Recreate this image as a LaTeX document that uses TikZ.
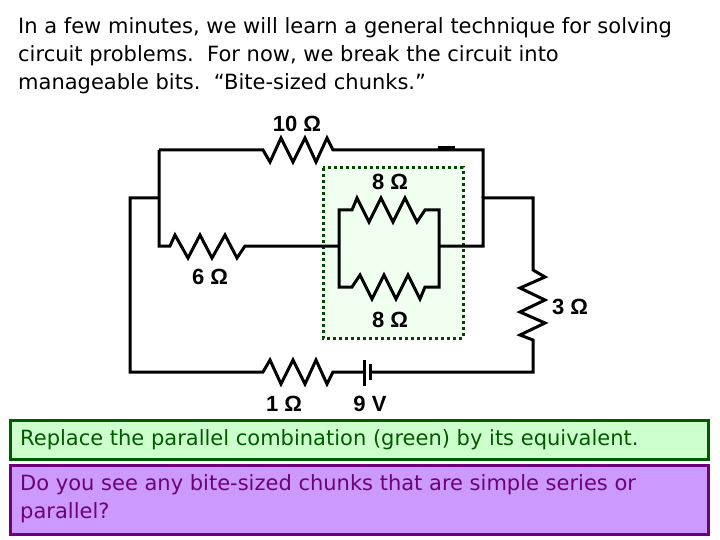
\documentclass[tikz,border=0pt]{standalone}
\usepackage{fontspec}
\setmainfont{DejaVu Sans}
\newfontfamily\arialf{Liberation Sans}
\definecolor{lav}{RGB}{204,153,255}
\definecolor{purp}{RGB}{110,0,120}
\definecolor{lgreen}{RGB}{204,255,204}
\definecolor{dgreen}{RGB}{0,90,0}
\begin{document}
\begin{tikzpicture}[x=1pt,y=-1pt,
  wire/.style={line width=3pt,line join=miter},
  lab/.style={font=\arialf\bfseries\fontsize{22}{24}\selectfont,inner sep=0pt},
  txt/.style={font=\fontsize{21}{28}\selectfont,inner sep=0pt,anchor=north west,align=left}]
\useasboundingbox (0,0) rectangle (720,540);
\fill[white] (0,0) rectangle (720,540);
% green dotted box
\filldraw[fill=green!6,draw=dgreen!80!black,line width=3pt,dash pattern=on 3pt off 3pt] (323,168) rectangle (463,338);
% nodes
\coordinate (tl) at (159,150); \coordinate (tr) at (483,150);
\coordinate (ml) at (159,198); \coordinate (ol) at (130,198);
\coordinate (r1) at (483,198); \coordinate (r2) at (533,198);
\coordinate (bl) at (130,372); \coordinate (br) at (533,372);
\coordinate (pl) at (339,246); \coordinate (pr) at (439,246);
% top branch with 10
\draw[wire] (tl) -- (263,150) -- (270,162) -- (281,138) -- (293,162) -- (305,138) -- (316,162) -- (327,138) -- (333,150) -- (tr) -- (r1);
% 6 branch
\draw[wire] (tl) -- (ml) -- (159,246) -- (170,246) -- (175,235) -- (188,258) -- (200,235) -- (212,258) -- (225,235) -- (237,258) -- (245,246) -- (pl);
\draw[wire] (ml) -- (ol) -- (bl) -- (263,372) -- (270,360) -- (281,384) -- (293,360) -- (305,384) -- (316,360) -- (327,384) -- (333,372) -- (364,372);
\draw[wire] (364,360) -- (364,386);
\draw[wire] (370,364) -- (370,380);
\draw[wire] (370,372) -- (br) -- (533,340) -- (520,335) -- (545,323) -- (520,312) -- (545,300) -- (520,288) -- (545,277) -- (533,270) -- (r2) -- (r1) -- (483,246) -- (pr);
% parallel
\draw[wire] (pl) -- (339,210) -- (352,210) -- (357,198) -- (369,222) -- (381,198) -- (393,222) -- (405,198) -- (417,222) -- (425,210) -- (439,210) -- (pr) -- (439,287) -- (425,287) -- (420,299) -- (408,275) -- (396,299) -- (384,275) -- (372,299) -- (360,275) -- (352,287) -- (339,287) -- (pl);
\draw[line width=3pt] (438,148) -- (455,148);
% labels
\node[lab] (l10) at (297,124) {10 Ω};
\node[lab] (l8a) at (390,182) {8 Ω};
\node[lab] (l6) at (210,277) {6 Ω};
\node[lab] (l8b) at (390,320) {8 Ω};
\node[lab] (l3) at (570,307) {3 Ω};
\node[lab] (l1) at (284,404) {1 Ω};
\node[lab] (l9) at (370,404) {9 V};
% title
\node[txt] (title) at (18,17) {In a few minutes, we will learn a general technique for solving\\circuit problems.\ \ For now, we break the circuit into\\manageable bits.\ \ “Bite-sized chunks.”};
% boxes
\draw[fill=lgreen,draw=dgreen,line width=3pt] (10,420) rectangle (708,459);
\node[txt,text=dgreen,anchor=west] (b1) at (20,439.5) {Replace the parallel combination (green) by its equivalent.};
\draw[fill=lav,draw=purp,line width=3pt] (10,465) rectangle (708,534);
\node[txt,text=purp] (b2) at (20,474) {Do you see any bite-sized chunks that are simple series or\\parallel?};
\end{tikzpicture}
\end{document}
